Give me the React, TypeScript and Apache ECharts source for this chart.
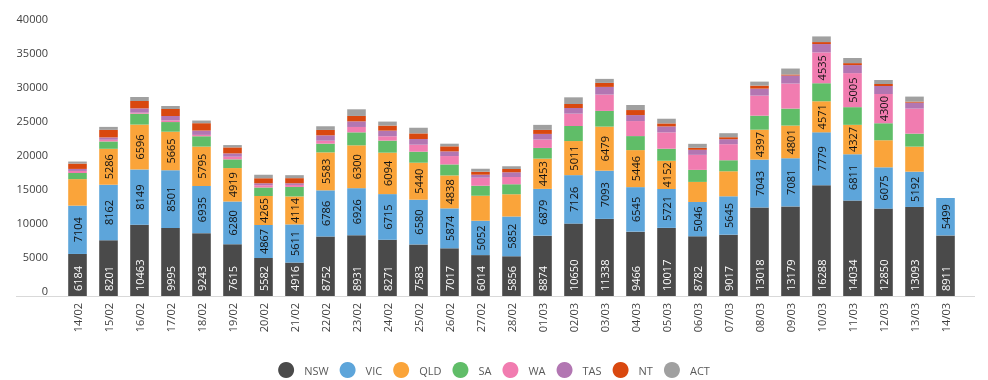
import React, { useEffect, useRef } from "react";
import * as echarts from "echarts";

const categories = [
  "14/02", "15/02", "16/02", "17/02", "18/02", "19/02", "20/02", "21/02", "22/02", "23/02",
  "24/02", "25/02", "26/02", "27/02", "28/02", "01/03", "02/03", "03/03", "04/03", "05/03",
  "06/03", "07/03", "08/03", "09/03", "10/03", "11/03", "12/03", "13/03", "14/03",
];

const NSW = [6184, 8201, 10463, 9995, 9243, 7615, 5582, 4916, 8752, 8931, 8271, 7583, 7017, 6014, 5856, 8874, 10650, 11338, 9466, 10017, 8782, 9017, 13018, 13179, 16288, 14034, 12850, 13093, 8911];
const VIC = [7104, 8162, 8149, 8501, 6935, 6280, 4867, 5611, 6786, 6926, 6715, 6580, 5874, 5052, 5852, 6879, 7126, 7093, 6545, 5721, 5046, 5645, 7043, 7081, 7779, 6811, 6075, 5192, 5499];
const QLD = [3900, 5286, 6596, 5665, 5795, 4919, 4265, 4114, 5583, 6300, 6094, 5440, 4838, 3680, 3240, 4453, 5011, 6479, 5446, 4152, 2950, 3680, 4397, 4801, 4571, 4327, 3980, 3680, 0];
const SA = [900, 1080, 1600, 1420, 1520, 1280, 1230, 1400, 1280, 1910, 1770, 1620, 1620, 1470, 1470, 1570, 2210, 2310, 2060, 1770, 1770, 1620, 2060, 2500, 2650, 2600, 2500, 1910, 0];
const WA = [300, 250, 150, 250, 200, 390, 340, 290, 440, 790, 640, 1030, 1230, 1180, 1080, 1230, 1820, 2400, 2210, 2400, 2210, 2360, 2950, 3680, 4535, 5005, 4300, 3680, 0];
const TAS = [300, 350, 640, 640, 640, 490, 300, 250, 790, 830, 830, 830, 690, 440, 690, 830, 830, 1130, 880, 880, 740, 740, 1030, 1180, 1230, 1180, 1180, 880, 0];
const NT = [785, 1100, 1080, 1030, 1080, 880, 740, 750, 790, 790, 740, 830, 740, 440, 490, 590, 590, 590, 740, 440, 290, 290, 440, 150, 290, 290, 290, 150, 0];
const ACT = [300, 440, 590, 440, 390, 340, 490, 440, 540, 980, 590, 830, 390, 440, 390, 740, 980, 590, 740, 690, 590, 590, 590, 880, 830, 750, 590, 740, 0];

const seriesNames = ["NSW", "VIC", "QLD", "SA", "WA", "TAS", "NT", "ACT"];
const seriesData = [NSW, VIC, QLD, SA, WA, TAS, NT, ACT];
const colors = ["#4a4a4a", "#5da5da", "#faa43a", "#60bd68", "#f17cb0", "#b276b2", "#d9480f", "#a0a0a0"];

const yTicks = { min: 0, max: 40000, interval: 5000 };
const FONT = "'Open Sans', 'Noto Sans', sans-serif";

export default function App() {
  const ref = useRef<HTMLDivElement>(null);

  useEffect(() => {
    if (!ref.current) return;
    const chart = echarts.init(ref.current, undefined, { renderer: "svg" });
    const fmt = (p: any) => (p.value >= 4000 ? String(p.value) : "");
    const series = seriesNames.map((name, i) => {
      let label: any = { show: false };
      if (i === 0) {
        label = {
          show: true,
          position: "insideBottom",
          rotate: 90,
          align: "left",
          verticalAlign: "middle",
          distance: 5,
          color: "#ffffff",
          fontSize: 11,
          fontFamily: FONT,
          formatter: fmt,
        };
      } else if (i === 1 || i === 2 || i === 4) {
        label = {
          show: true,
          position: "inside",
          rotate: 90,
          align: "center",
          verticalAlign: "middle",
          color: "#111111",
          fontSize: 11,
          fontFamily: FONT,
          formatter: fmt,
        };
      }
      return {
        name,
        type: "bar",
        stack: "total",
        barWidth: "60%",
        data: seriesData[i],
        itemStyle: { color: colors[i] },
        label,
        emphasis: { disabled: true },
      };
    });

    chart.setOption({
      animation: false,
      color: colors,
      textStyle: { fontFamily: FONT },
      grid: { left: 62, right: 27, top: 24, bottom: 84, containLabel: false },
      xAxis: {
        type: "category",
        data: categories,
        axisLine: { show: false },
        axisTick: { show: false },
        axisLabel: {
          rotate: 90,
          margin: 7,
          fontSize: 11,
          color: "#404040",
          fontFamily: FONT,
          interval: 0,
        },
      },
      yAxis: {
        type: "value",
        min: yTicks.min,
        max: yTicks.max,
        interval: yTicks.interval,
        axisLine: { show: false },
        axisTick: { show: false },
        splitLine: { show: false },
        axisLabel: {
          margin: 14,
          fontSize: 11,
          color: "#404040",
          fontFamily: FONT,
          verticalAlign: "bottom",
          lineHeight: 11,
          formatter: (v: number) => String(v),
        },
      },
      legend: {
        data: seriesNames,
        left: "center",
        top: 357,
        icon: "circle",
        itemWidth: 16,
        itemHeight: 16,
        itemGap: 11,
        textStyle: { fontSize: 11, color: "#595959", fontFamily: FONT, padding: [0, 0, 0, 5] },
      },
      graphic: [
        {
          type: "line",
          shape: { x1: 16, y1: 296.5, x2: 975, y2: 296.5 },
          style: { stroke: "#d9d9d9", lineWidth: 1 },
          silent: true,
        },
      ],
      series,
    });
    return () => chart.dispose();
  }, []);

  return (
    <div
      ref={ref}
      style={{ position: "fixed", left: 0, top: 0, width: 988, height: 380 }}
    />
  );
}
